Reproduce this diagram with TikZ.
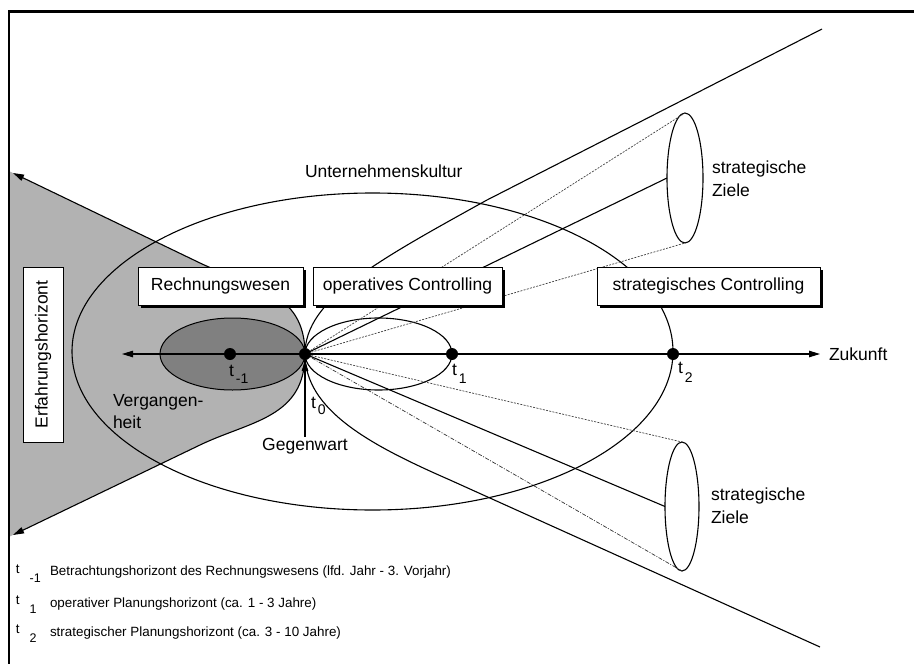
\documentclass[tikz,border=0pt]{standalone}
\usepackage{fontspec}
\setmainfont{Liberation Sans}
\usetikzlibrary{arrows.meta,shapes.geometric,shadows}

% time marks: "t" with a lowered index
\newcommand\tmark[2][8pt]{t\hspace{2pt}\raisebox{-#1}{\fontsize{14}{14}\selectfont #2}}
\newcommand\lmark[1]{t\hspace{10pt}\raisebox{-9pt}{\fontsize{12.5}{13}\selectfont #1}}

\begin{document}
\begin{tikzpicture}[x=1pt,y=-1pt,
  every node/.style={inner sep=0pt, outer sep=0pt},
  big/.style={font=\fontsize{17.5}{21}\selectfont},
  legend/.style={font=\fontsize{13.4}{16}\selectfont},
  line/.style={line width=1.1pt},
  finedots/.style={line width=0.7pt, dash pattern=on 2pt off 1.3pt, black!75},
  dashdot/.style={line width=0.7pt, dash pattern=on 4pt off 1.5pt on 1pt off 1.5pt, black!80},
  labelbox/.style={draw, line width=1pt, fill=white, big, minimum height=38pt,
    drop shadow={shadow xshift=3pt, shadow yshift=-3pt, opacity=1, fill=black}},
  goal/.style={ellipse, draw, line width=1.1pt},
  dot/.style={circle, fill=black, minimum size=12pt},
  tip/.style={-{Triangle[length=11pt,width=6.5pt]}},
]
\useasboundingbox (0,0) rectangle (914,664);

% time points on the axis
\coordinate (t0) at (305,354);
\coordinate (tm1) at (230,354);
\coordinate (t1) at (452,354);
\coordinate (t2) at (673,354);
\coordinate (axl) at (122,354);
\coordinate (axr) at (820,354);
\coordinate (hlu) at (13,173);
\coordinate (hll) at (13,535);
\coordinate (hru) at (822,29);
\coordinate (hrl) at (820,647);

% horizon of experience (shaded)
\fill[black!30] (8.8,171) -- (hlu) -- (200,263) .. controls (250,287) and (305,290) .. (t0)
  .. controls (305,418) and (250,421) .. (200,445) -- (hll) -- (8.8,537) -- cycle;

% ellipses
\node[ellipse, draw, line width=1pt, fill=black!50, minimum width=145pt, minimum height=72pt] (past) at (232.5,354) {};
\node[ellipse, draw, line, minimum width=601pt, minimum height=317pt] (kultur) at (372.5,351.5) {};
\node[ellipse, draw, line, minimum width=147pt, minimum height=72pt] (oper) at (378.5,354) {};
\node[goal, minimum width=36pt, minimum height=130pt] (zo) at (685,178) {};
\node[goal, minimum width=34pt, minimum height=129pt] (zu) at (682,506.5) {};

% horizon curves
\draw[line, tip] (t0) .. controls (305,290) and (250,287) .. (200,263) -- (hlu);
\draw[line, tip] (t0) .. controls (305,418) and (250,421) .. (200,445) -- (hll);
\draw[line] (t0) .. controls (305,300) and (375,262) .. (487,200) -- (hru);
\draw[line] (t0) .. controls (305,410) and (370,445) .. (450,480) -- (hrl);

% rays towards the strategic goals
\draw[finedots] (t0) -- (zo.north);
\draw[line] (t0) -- (zo.west);
\draw[finedots] (t0) -- (zo.south);
\draw[finedots] (t0) -- (zu.north);
\draw[line] (t0) -- (zu.west);
\draw[dashdot] (t0) -- (zu.south);

% time axis
\draw[line, tip] (t0) -- (axl);
\draw[line, tip] (t0) -- (axr);

% label boxes
\node[labelbox, minimum width=165pt] (rw) at (220.5,286) {Rechnungswesen};
\node[labelbox, minimum width=189pt] (oc) at (407.5,286) {operatives Controlling};
\node[labelbox, minimum width=223pt] (sc) at (708.5,286) {strategisches Controlling};
\node[draw, line width=1pt, fill=white, big, minimum width=175pt, minimum height=40pt, rotate=90] (eh) at (43,354.5) {Erfahrungshorizont};

% dots
\node[dot] (d0) at (t0) {};
\node[dot] (dm1) at (tm1) {};
\node[dot] (d1) at (t1) {};
\node[dot] (d2) at (t2) {};

% texts
\node[big, anchor=base west] (uk) at (305,177) {Unternehmenskultur};
\node[big, anchor=base west] (zk) at (829,360) {Zukunft};
\node[big, anchor=base] (gw) at (305,450) {Gegenwart};
\draw[line, tip] (gw.north) ++(0,-1) coordinate (gwt) (gwt) -- (d0.south);
\node[big, anchor=base west] (vg1) at (113,406) {Vergangen-};
\node[big, anchor=base west] (vg2) at (113,428) {heit};
\node[big, anchor=base west] (zo1) at (712,173) {strategische};
\node[big, anchor=base west] (zo2) at (712,196) {Ziele};
\node[big, anchor=base west] (zu1) at (711,500) {strategische};
\node[big, anchor=base west] (zu2) at (711,523) {Ziele};

\node[big, anchor=base west] (lm1) at (229,376) {\tmark[7pt]{-1}};
\node[big, anchor=base west] (l0) at (311,408) {\tmark[6pt]{0}};
\node[big, anchor=base west] (l1) at (452,375) {\tmark{1}};
\node[big, anchor=base west] (l2) at (678,373) {\tmark[9pt]{2}};

% legend
\node[legend, anchor=base west] (k1) at (16,573) {\lmark{-1}};
\node[legend, anchor=base west] (k1t) at (50,575) {Betrachtungshorizont des Rechnungswesens (lfd. Jahr - 3. Vorjahr)};
\node[legend, anchor=base west] (k2) at (16,604) {\lmark{1}};
\node[legend, anchor=base west] (k2t) at (50,607) {operativer Planungshorizont (ca. 1 - 3 Jahre)};
\node[legend, anchor=base west] (k3) at (16,633) {\lmark{2}};
\node[legend, anchor=base west] (k3t) at (50,636) {strategischer Planungshorizont (ca. 3 - 10 Jahre)};

% frame
\draw[line width=2.6pt] (8.8,664) -- (8.8,11.3) -- (914,11.3);
\end{tikzpicture}
\end{document}
